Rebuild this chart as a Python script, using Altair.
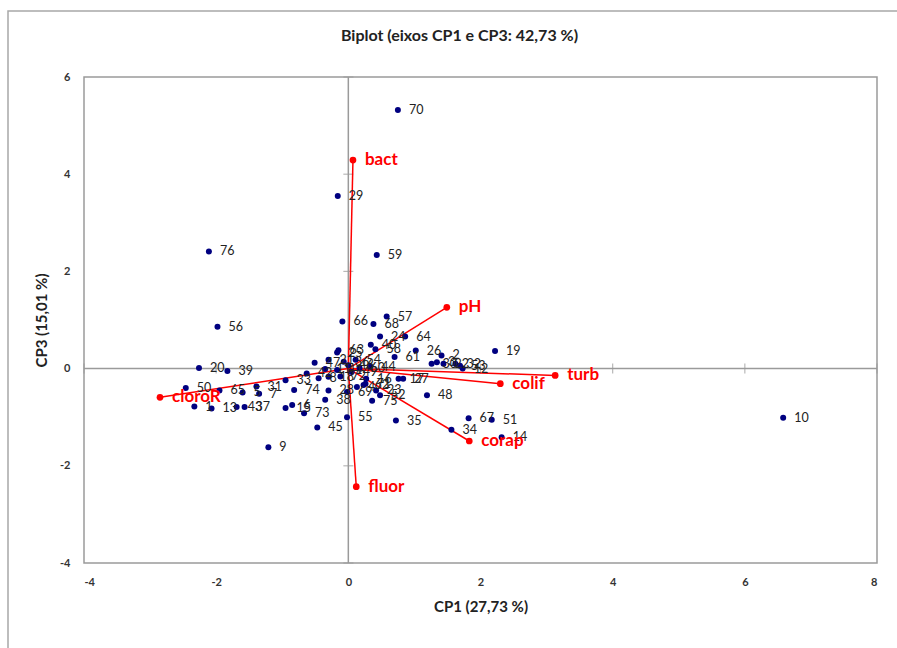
import altair as alt
import pandas as pd

# ---- data ----
obs_labels = ["70", "29", "59", "76", "56", "66", "68", "57", "24", "64",
              "19", "26", "61", "10", "9", "45", "55", "35", "34", "67",
              "51", "14", "48", "20", "39", "50", "1", "13", "65", "43",
              "37", "5", "31", "7", "33", "6", "15", "73", "74", "38",
              "28", "16", "17", "27", "75", "52", "23", "4", "47", "63",
              "40", "58", "44", "30", "3", "2", "22", "32", "53", "12",
              "42", "8", "11", "18", "21", "25", "36", "41", "46", "49",
              "54", "60", "62", "69", "71", "72"]
obs_x = [0.75, -0.16, 0.43, -2.11, -1.98, -0.09, 0.38, 0.58, 0.48, 0.86,
         2.22, 1.02, 0.70, 6.58, -1.21, -0.47, -0.02, 0.72, 1.56, 1.82,
         2.17, 2.32, 1.19, -2.26, -1.83, -2.46, -2.33, -2.07, -1.95, -1.69,
         -1.57, -1.60, -1.39, -1.35, -0.95, -0.85, -0.95, -0.67, -0.82, -0.35,
         -0.30, 0.27, 0.76, 0.83, 0.36, 0.48, 0.42, 0.13, -0.51, -0.15,
         0.34, 0.41, 0.33, 1.26, 1.34, 1.41, 1.44, 1.62, 1.69, 1.73,
         -0.63, -0.45, -0.35, -0.30, -0.30, -0.17, -0.07, -0.17, 0.00, 0.05,
         0.11, 0.17, 0.23, -0.02, 0.26, -0.12]
obs_y = [5.32, 3.55, 2.34, 2.41, 0.86, 0.97, 0.92, 1.07, 0.66, 0.66,
         0.36, 0.37, 0.24, -1.01, -1.62, -1.21, -1.00, -1.07, -1.26, -1.02,
         -1.05, -1.41, -0.55, 0.01, -0.05, -0.40, -0.78, -0.82, -0.45, -0.79,
         -0.79, -0.49, -0.37, -0.52, -0.24, -0.75, -0.81, -0.92, -0.44, -0.64,
         -0.45, -0.21, -0.21, -0.21, -0.66, -0.55, -0.45, -0.38, 0.12, 0.38,
         0.49, 0.40, 0.04, 0.10, 0.13, 0.27, 0.10, 0.10, 0.06, 0.00,
         -0.10, -0.20, -0.01, -0.17, 0.18, 0.33, 0.14, -0.03, 0.07, -0.07,
         0.18, 0.01, -0.34, -0.48, -0.31, -0.16]

var_names = ["bact", "pH", "turb", "colif", "corap", "fluor", "cloroR"]
var_x = [0.07, 1.49, 3.13, 2.30, 1.83, 0.12, -2.85]
var_y = [4.29, 1.26, -0.14, -0.31, -1.49, -2.43, -0.59]

x_ticks = [-4, -2, 0, 2, 4, 6, 8]
y_ticks = [-4, -2, 0, 2, 4, 6]

title_text = "Biplot (eixos CP1 e CP3: 42,73 %)"
x_title = "CP1 (27,73 %)"
y_title = "CP3 (15,01 %)"

# ---- tables ----
obs = pd.DataFrame({"lab": obs_labels, "x": obs_x, "y": obs_y})
var = pd.DataFrame({"name": var_names, "x": var_x, "y": var_y,
                    "x0": [0.0] * len(var_names), "y0": [0.0] * len(var_names)})
xt = pd.DataFrame({"x": x_ticks, "y": [0.0] * len(x_ticks)})
yt = pd.DataFrame({"x": [0.0] * len(y_ticks), "y": y_ticks})
zero = pd.DataFrame({"v": [0.0]})

FONT = "Lato"
GREY = "#9a9a9a"
RED = "#ff0000"
NAVY = "#000080"

xs = alt.Scale(domain=[-4, 8], nice=False, zero=False)
ys = alt.Scale(domain=[-4, 6], nice=False, zero=False)

X = alt.X("x:Q", scale=xs, title=x_title,
          axis=alt.Axis(values=x_ticks, grid=False, ticks=False, domain=False,
                        labelExpr="'' + datum.value", labelPadding=13,
                        titlePadding=12))
Y = alt.Y("y:Q", scale=ys, title=y_title,
          axis=alt.Axis(values=y_ticks, grid=False, ticks=False, domain=False,
                        labelExpr="'' + datum.value", labelPadding=14,
                        titlePadding=10))

frame = alt.Chart(alt.Data(values=[{}])).mark_rect(
    filled=False, stroke="#a8a8a8", strokeWidth=1.5
).encode(x=alt.value(-76), x2=alt.value(900), y=alt.value(-66), y2=alt.value(700))

vrule = alt.Chart(zero).mark_rule(color=GREY, strokeWidth=1.5).encode(
    x=alt.X("v:Q", scale=xs))
hrule = alt.Chart(zero).mark_rule(color=GREY, strokeWidth=1.5).encode(
    y=alt.Y("v:Q", scale=ys))

xticks_m = alt.Chart(xt).mark_tick(orient="vertical", size=10, thickness=1.2,
                                   color=GREY).encode(x=X, y=Y)
yticks_m = alt.Chart(yt).mark_tick(orient="horizontal", size=10, thickness=1.2,
                                   color=GREY).encode(x=X, y=Y)

vlines = alt.Chart(var).mark_rule(color=RED, strokeWidth=1.5).encode(
    x=alt.X("x0:Q", scale=xs), y=alt.Y("y0:Q", scale=ys),
    x2="x:Q", y2="y:Q")
vpts = alt.Chart(var).mark_circle(color=RED, size=45, opacity=1).encode(x=X, y=Y)
vtxt = alt.Chart(var).mark_text(
    color=RED, font=FONT, fontSize=17, fontWeight="bold",
    align="left", baseline="middle", dx=12
).encode(x=X, y=Y, text="name:N")

opts = alt.Chart(obs).mark_circle(color=NAVY, size=36, opacity=1).encode(x=X, y=Y)
otxt = alt.Chart(obs).mark_text(
    color="#222222", font=FONT, fontSize=12.5, align="left", baseline="middle", dx=11
).encode(x=X, y=Y, text="lab:N")

chart = alt.layer(
    frame, vrule, hrule, xticks_m, yticks_m, vlines, opts, otxt, vpts, vtxt
).properties(
    width=793, height=486,
    title=alt.TitleParams(title_text, font=FONT, fontSize=16, fontWeight="bold",
                          color="#222222", anchor="middle", frame="group",
                          dx=-21, offset=-34),
    autosize=alt.AutoSizeParams(type="none"),
    padding={"left": 84, "top": 77, "right": 20, "bottom": 85},
    background="white",
).configure_view(
    stroke=GREY, strokeWidth=1.5
).configure_axis(
    labelFont=FONT, labelFontSize=11, labelFontWeight="bold", labelColor="#333333",
    titleFont=FONT, titleFontSize=15, titleFontWeight="bold", titleColor="#222222"
)

chart.save("out.html", embed_options={"renderer": "svg", "actions": False})
